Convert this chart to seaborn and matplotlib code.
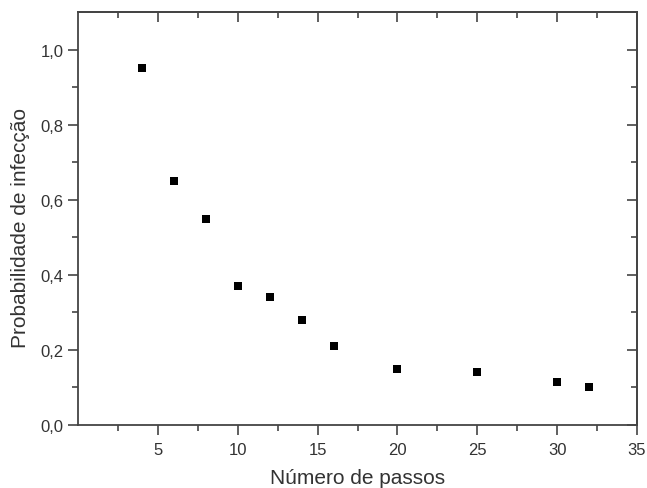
import seaborn as sns
import matplotlib.pyplot as plt
import pandas as pd
from matplotlib.ticker import FuncFormatter, NullFormatter

passos = [4, 6, 8, 10, 12, 14, 16, 20, 25, 30, 32]
probabilidade = [0.95, 0.65, 0.55, 0.37, 0.34, 0.28, 0.21, 0.15, 0.14, 0.115, 0.10]

x_major = [5, 10, 15, 20, 25, 30, 35]
x_minor = [2.5, 7.5, 12.5, 17.5, 22.5, 27.5, 32.5]
y_major = [0.0, 0.2, 0.4, 0.6, 0.8, 1.0]
y_minor = [0.1, 0.3, 0.5, 0.7, 0.9]

df = pd.DataFrame({'passos': passos, 'prob': probabilidade})

sns.set_style('ticks')
plt.rcParams['font.family'] = ['Liberation Sans', 'DejaVu Sans']

fig = plt.figure(figsize=(6.47, 4.89), dpi=100)
ax = fig.add_axes([78 / 647, 1 - 426 / 489, (637 - 78) / 647, (426 - 13) / 489])

sns.scatterplot(data=df, x='passos', y='prob', marker='s', s=36, color='black',
                edgecolor='black', linewidth=0, ax=ax)

ax.set_xlim(0, 35)
ax.set_ylim(0, 1.1)

line_c = '#444444'
txt = '#333333'

ax.set_xticks(x_major)
ax.set_xticks(x_minor, minor=True)
ax.set_yticks(y_major)
ax.set_yticks(y_minor, minor=True)
ax.yaxis.set_major_formatter(FuncFormatter(lambda v, p: f'{v:.1f}'.replace('.', ',')))

for s in ax.spines.values():
    s.set_visible(True)
    s.set_color(line_c)
    s.set_linewidth(1.3)

ax.tick_params(which='both', direction='out', colors=line_c, labelcolor=txt, labelsize=12, width=1.2)
ax.tick_params(which='major', length=7)
ax.tick_params(which='minor', length=4)
ax.tick_params(axis='x', which='major', pad=5)

# mirrored ticks pointing inward on top and right
top = ax.secondary_xaxis('top')
right = ax.secondary_yaxis('right')
top.set_xticks(x_major)
top.set_xticks(x_minor, minor=True)
right.set_yticks(y_major)
right.set_yticks(y_minor, minor=True)
for sec in (top, right):
    sec.tick_params(which='both', direction='in', colors=line_c, width=1.2)
    sec.tick_params(which='major', length=7)
    sec.tick_params(which='minor', length=4)
    for s in sec.spines.values():
        s.set_color(line_c)
        s.set_linewidth(1.3)
top.xaxis.set_major_formatter(NullFormatter())
right.yaxis.set_major_formatter(NullFormatter())

ax.set_xlabel('Número de passos', fontsize=15, color=txt)
ax.set_ylabel('Probabilidade de infecção', fontsize=15, color=txt)
ax.xaxis.set_label_coords(0.5, -0.104)
ax.yaxis.set_label_coords(-0.086, 0.479)

fig.savefig('out.png', dpi=100)
